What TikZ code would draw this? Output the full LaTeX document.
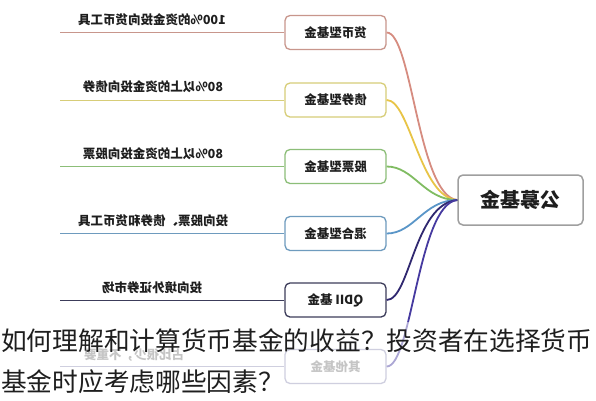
\documentclass[tikz,border=0pt]{standalone}
\usepackage{fontspec}
\usepackage{graphicx}
\newfontfamily\cjk{Noto Sans CJK SC}
\newcommand{\flipit}[1]{\scalebox{-1}[1]{#1}}
\definecolor{cA}{RGB}{214,140,128}
\definecolor{cAb}{RGB}{200,150,140}
\definecolor{cB}{RGB}{232,196,70}
\definecolor{cBb}{RGB}{215,205,120}
\definecolor{cC}{RGB}{128,188,98}
\definecolor{cCb}{RGB}{140,190,120}
\definecolor{cD}{RGB}{90,150,200}
\definecolor{cDb}{RGB}{110,155,190}
\definecolor{cE}{RGB}{48,40,112}
\definecolor{cEb}{RGB}{60,60,90}
\definecolor{cF}{RGB}{70,58,160}
\definecolor{cFb}{RGB}{150,150,185}
\definecolor{txt}{RGB}{30,30,30}
\begin{document}
\begin{tikzpicture}[x=1pt,y=-1pt,
  branchbox/.style={draw, rounded corners=5pt, line width=1.3pt, minimum width=101pt,
    minimum height=34pt, fill=white, inner sep=0pt, text=txt,
    font=\cjk\bfseries\fontsize{12.5}{14}\selectfont},
  centerbox/.style={draw=gray!75, rounded corners=5pt, line width=1.5pt, minimum width=125pt,
    minimum height=50pt, fill=white, inner sep=0pt, text=txt,
    font=\cjk\bfseries\fontsize{20}{22}\selectfont},
  leaflabel/.style={inner sep=0pt, text=txt, font=\cjk\bfseries\fontsize{12.5}{14}\selectfont},
  leafline/.style={line width=1pt},
  curve/.style={line width=1.8pt},
  overlaytext/.style={inner sep=0pt, anchor=west, text=txt, font=\cjk\fontsize{25.7}{28}\selectfont}
]
\useasboundingbox (0,0) rectangle (596,400);
\fill[white] (0,0) rectangle (596,400);

% central node
\node[centerbox] (c) at (520.5,200) {\flipit{公募基金}};

% branch boxes
\node[branchbox, draw=cAb] (b1) at (335.5,32.5) {\flipit{货币型基金}};
\node[branchbox, draw=cBb] (b2) at (335.5,100) {\flipit{债券型基金}};
\node[branchbox, draw=cCb] (b3) at (335.5,166.5) {\flipit{股票型基金}};
\node[branchbox, draw=cDb] (b4) at (335.5,233.5) {\flipit{混合型基金}};
\node[branchbox, draw=cEb] (b5) at (335.5,300) {\flipit{QDII 基金}};
\node[branchbox, draw=cFb, text=gray] (b6) at (335.5,366.5) {\flipit{其他基金}};

% leaf line ends
\coordinate (e1) at (60,32.5);
\coordinate (e2) at (60,100);
\coordinate (e3) at (60,166.5);
\coordinate (e4) at (60,233.5);
\coordinate (e5) at (60,300);
\coordinate (e6) at (60,366.5);

\draw[leafline, cAb] (b1.west) -- (e1);
\draw[leafline, cBb] (b2.west) -- (e2);
\draw[leafline, cCb] (b3.west) -- (e3);
\draw[leafline, cDb] (b4.west) -- (e4);
\draw[leafline, cEb] (b5.west) -- (e5);
\draw[leafline, cFb] (b6.west) -- (e6);

% leaf labels
\node[leaflabel] (l1) at (152,20) {\flipit{100\%的资金投向货币工具}};
\node[leaflabel] (l2) at (153,87) {\flipit{80\%以上的资金投向债券}};
\node[leaflabel] (l3) at (153,153.5) {\flipit{80\%以上的资金投向股票}};
\node[leaflabel] (l4) at (153,221) {\flipit{投向股票、债券和货币工具}};
\node[leaflabel] (l5) at (152,287.5) {\flipit{投向境外证券市场}};
\node[leaflabel, text=gray] (l6) at (134,355) {\flipit{占比很少，不重要}};

% curves to central node
\draw[curve, cA] (b1.east) .. controls (412,32.5) and (418,196) .. (c.west);
\draw[curve, cB] (b2.east) .. controls (410,100) and (420,198) .. (c.west);
\draw[curve, cC] (b3.east) .. controls (414,166.5) and (424,200) .. (c.west);
\draw[curve, cD] (b4.east) .. controls (414,233.5) and (424,200) .. (c.west);
\draw[curve, cE] (b5.east) .. controls (410,300) and (414,204) .. (c.west);
\draw[curve, cF] (b6.east) .. controls (412,366.5) and (418,204) .. (c.west);

% translucent overlay with title text
\fill[white, opacity=0.55] (0,322) rectangle (596,400);
\node[overlaytext] (t1) at (1,341) {如何理解和计算货币基金的收益？投资者在选择货币};
\node[overlaytext] (t2) at (1,382) {基金时应考虑哪些因素？};
\end{tikzpicture}
\end{document}
